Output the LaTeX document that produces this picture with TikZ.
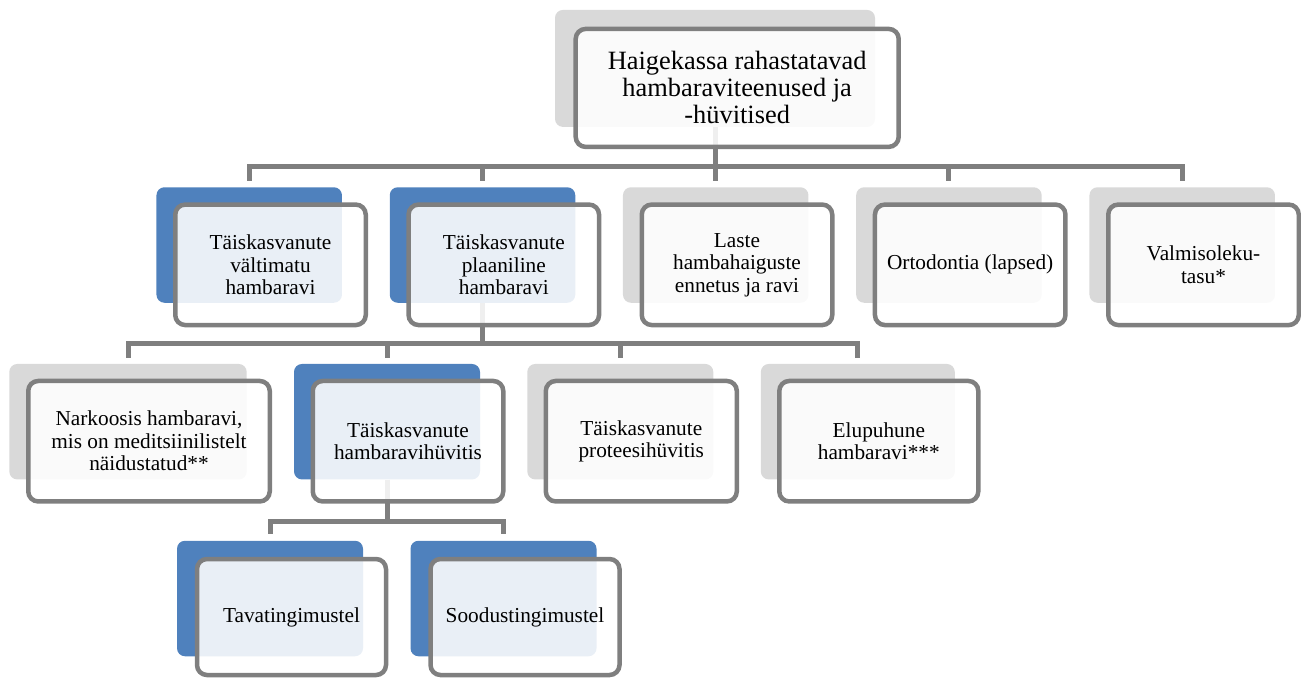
\documentclass[tikz,border=0pt]{standalone}
\usepackage{fontspec}
\setmainfont{Liberation Serif}
\definecolor{kastsinine}{HTML}{4F81BD}
\definecolor{kasthall}{HTML}{D9D9D9}
\definecolor{joonhall}{HTML}{7F7F7F}
\tikzset{
  taust/.style={rounded corners=8pt, inner sep=0pt, minimum height=115.5pt},
  kaart/.style={draw=joonhall, line width=4.5pt, rounded corners=10pt,
    fill=white, fill opacity=0.88, text opacity=1, align=center,
    inner sep=0pt, minimum height=120.5pt,
    font=\fontsize{21.3pt}{22.5pt}\selectfont},
  haru/.style={draw=joonhall, line width=5pt}
}
\begin{document}
\begin{tikzpicture}[x=1pt, y=-1pt]
    \useasboundingbox (0,0) rectangle (1301,678);

    % Tagumised kastid
    \node[taust, fill=kasthall, minimum width=320pt, minimum height=117pt] (raha-taust) at (715,68.4) {};
    \foreach \nimi/\x/\varv in {valt/249.2/kastsinine, plaan/482.5/kastsinine, laste/715.7/kasthall, orto/948.9/kasthall, valm/1182.2/kasthall}
        \node[taust, fill=\varv, minimum width=185.5pt] (\nimi-taust) at (\x,245) {};
    \foreach \nimi/\x/\w/\varv in {nark/128/237.4/kasthall, hyv/387/186/kastsinine, prot/620.3/186/kasthall, elu/857.8/194/kasthall}
        \node[taust, fill=\varv, minimum width=\w pt] (\nimi-taust) at (\x,421.7) {};
    \foreach \nimi/\x in {tava/270, sood/503.5}
        \node[taust, fill=kastsinine, minimum width=186pt] (\nimi-taust) at (\x,598.5) {};

    % Harud
    \coordinate (riba1) at (0,166.7);
    \coordinate (riba2) at (0,343.5);
    \coordinate (riba3) at (0,521.7);
    \foreach \nimi in {valt,plaan,laste,orto,valm}
        \draw[haru] (raha-taust.south) -- (raha-taust.south |- riba1) -| ([yshift=6pt]\nimi-taust.north);
    \foreach \nimi in {nark,hyv,prot,elu}
        \draw[haru] (plaan-taust.south) -- (plaan-taust.south |- riba2) -| ([yshift=6pt]\nimi-taust.north);
    \foreach \nimi in {tava,sood}
        \draw[haru] (hyv-taust.south) -- (hyv-taust.south |- riba3) -| ([yshift=7pt]\nimi-taust.north);

    % Eesmised kastid
    \node[kaart, minimum width=323pt, minimum height=118pt, font=\fontsize{26.4pt}{27pt}\selectfont] (raha) at ([shift={(22.2,19.5)}]raha-taust.center) {Haigekassa rahastatavad\\hambaraviteenused ja\\-hüvitised};

    \node[kaart, minimum width=190.5pt] (valt) at ([shift={(21.3,19.8)}]valt-taust.center) {Täiskasvanute\\vältimatu\\hambaravi};
    \node[kaart, minimum width=190.5pt] (plaan) at ([shift={(21.3,19.8)}]plaan-taust.center) {Täiskasvanute\\plaaniline\\hambaravi};
    \node[kaart, minimum width=190.5pt] (laste) at ([shift={(21.3,19.8)}]laste-taust.center) {Laste\\hambahaiguste\\ennetus ja ravi};
    \node[kaart, minimum width=190.5pt] (orto) at ([shift={(21.3,19.8)}]orto-taust.center) {Ortodontia (lapsed)};
    \node[kaart, minimum width=190.5pt] (valm) at ([shift={(21.3,19.8)}]valm-taust.center) {Valmisoleku-\\tasu*};

    \node[kaart, minimum width=241.5pt] (nark) at ([shift={(21,19.5)}]nark-taust.center) {Narkoosis hambaravi,\\mis on meditsiinilistelt\\näidustatud**};
    \node[kaart, minimum width=190.5pt] (hyv) at ([shift={(21,19.5)}]hyv-taust.center) {Täiskasvanute\\hambaravihüvitis};
    \node[kaart, minimum width=191pt] (prot) at ([shift={(21,19.5)}]prot-taust.center) {Täiskasvanute\\proteesihüvitis};
    \node[kaart, minimum width=199pt] (elu) at ([shift={(21,19.5)}]elu-taust.center) {Elupuhune\\hambaravi***};

    \node[kaart, minimum width=189pt, minimum height=116pt] (tava) at ([shift={(21.5,18.5)}]tava-taust.center) {Tavatingimustel};
    \node[kaart, minimum width=189pt, minimum height=116pt] (sood) at ([shift={(21.5,18.5)}]sood-taust.center) {Soodustingimustel};
\end{tikzpicture}
\end{document}
